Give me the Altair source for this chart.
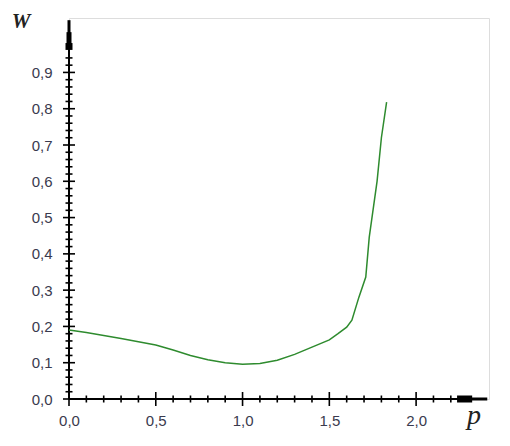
import altair as alt
import pandas as pd

# curve data
p_vals = [0.0, 0.1, 0.2, 0.3, 0.4, 0.5, 0.6, 0.7, 0.8, 0.9, 1.0, 1.1, 1.2, 1.3, 1.4,
          1.5, 1.55, 1.6, 1.63, 1.67, 1.71, 1.73, 1.775, 1.80, 1.83]
w_vals = [0.19, 0.183, 0.175, 0.167, 0.158, 0.149, 0.135, 0.12, 0.108, 0.100, 0.096,
          0.098, 0.107, 0.123, 0.143, 0.163, 0.18, 0.198, 0.217, 0.28, 0.336, 0.446,
          0.60, 0.72, 0.818]

# tick values
x_major = [0.0, 0.5, 1.0, 1.5, 2.0]
x_minor = [0.1, 0.2, 0.3, 0.4, 0.6, 0.7, 0.8, 0.9, 1.1, 1.2, 1.3, 1.4,
           1.6, 1.7, 1.8, 1.9, 2.1, 2.2]
y_major = [0.0, 0.1, 0.2, 0.3, 0.4, 0.5, 0.6, 0.7, 0.8, 0.9]
y_minor = [0.02, 0.04, 0.06, 0.08, 0.12, 0.14, 0.16, 0.18, 0.22, 0.24, 0.26, 0.28,
           0.32, 0.34, 0.36, 0.38, 0.42, 0.44, 0.46, 0.48, 0.52, 0.54, 0.56, 0.58,
           0.62, 0.64, 0.66, 0.68, 0.72, 0.74, 0.76, 0.78, 0.82, 0.84, 0.86, 0.88,
           0.92, 0.94]

X_DOMAIN = [0, 2.42]
Y_DOMAIN = [0, 1.05]
W = 420
H = 381

xs = alt.Scale(domain=X_DOMAIN, nice=False, zero=False)
ys = alt.Scale(domain=Y_DOMAIN, nice=False, zero=False)

label_expr = "replace(format(datum.value, '.1f'), '.', ',')"
label_color = "#3a3a4e"

X_AXIS = alt.Axis(
    values=x_major, labelExpr=label_expr, ticks=False, domain=False, grid=False,
    title=None, labelPadding=14, labelFontSize=15, labelFont="Liberation Sans",
    labelColor=label_color, labelFlush=False, labelOverlap=False)
Y_AXIS = alt.Axis(
    values=y_major, labelExpr=label_expr, ticks=False, domain=False, grid=False,
    title=None, labelPadding=17, labelFontSize=15, labelFont="Liberation Sans",
    labelColor=label_color, labelFlush=False, labelOverlap=False)

curve = alt.Chart(pd.DataFrame({"p": p_vals, "w": w_vals})).mark_line(
    color="#2e8b2e", strokeWidth=1.5
).encode(
    x=alt.X("p:Q", scale=xs, axis=X_AXIS),
    y=alt.Y("w:Q", scale=ys, axis=Y_AXIS),
    order="p:Q",
)

def xticks(vals, half):
    return alt.Chart(pd.DataFrame({"p": vals})).mark_rule(color="black", strokeWidth=1.6).encode(
        x=alt.X("p:Q", scale=xs, axis=X_AXIS),
        y=alt.value(H - half), y2=alt.value(H + half))

def yticks(vals, half):
    return alt.Chart(pd.DataFrame({"w": vals})).mark_rule(color="black", strokeWidth=1.6).encode(
        y=alt.Y("w:Q", scale=ys, axis=Y_AXIS),
        x=alt.value(-half), x2=alt.value(half))

def xseg(a, b, sw):
    return alt.Chart(pd.DataFrame({"p": [a], "b": [b]})).mark_rule(color="black", strokeWidth=sw).encode(
        x=alt.X("p:Q", scale=xs, axis=X_AXIS), x2="b:Q", y=alt.value(H))

def yseg(a, b, sw):
    return alt.Chart(pd.DataFrame({"w": [a], "b": [b]})).mark_rule(color="black", strokeWidth=sw).encode(
        y=alt.Y("w:Q", scale=ys, axis=Y_AXIS), y2="b:Q", x=alt.value(0))

x_axis_line = xseg(0.0, 2.33, 2)
x_arrow_block = xseg(2.236, 2.323, 7)
x_arrow_tip = xseg(2.3, 2.41, 3)

y_axis_line = yseg(0.0, 1.0, 2)
y_arrow_block = yseg(0.962, 0.981, 7)
y_arrow_mid = yseg(0.975, 1.011, 5)
y_arrow_tip = yseg(1.0, 1.044, 3)

title_w = alt.Chart(pd.DataFrame({"t": ["W"]})).mark_text(
    font="Liberation Serif", fontStyle="italic", fontWeight="bold", fontSize=21,
    color="#222222", align="center", baseline="alphabetic"
).encode(x=alt.value(-48), y=alt.value(10), text="t:N")

title_p = alt.Chart(pd.DataFrame({"t": ["p"]})).mark_text(
    font="Liberation Serif", fontStyle="italic", fontSize=28, color="#222222",
    align="center", baseline="alphabetic"
).encode(x=alt.value(405), y=alt.value(H + 25), text="t:N")

chart = alt.layer(
    x_axis_line, y_axis_line,
    xticks(x_major, 7), xticks(x_minor, 3.5),
    yticks(y_major, 6), yticks(y_minor, 3.5),
    x_arrow_block, x_arrow_tip,
    y_arrow_block, y_arrow_mid, y_arrow_tip,
    curve, title_w, title_p,
).properties(
    width=W, height=H,
    autosize=alt.AutoSizeParams(type="none"),
    padding={"left": 61, "top": 10, "right": 13, "bottom": 38},
).configure_view(strokeWidth=0).configure(background="white")

chart.save("out.html", embed_options={"renderer": "svg", "actions": False})
